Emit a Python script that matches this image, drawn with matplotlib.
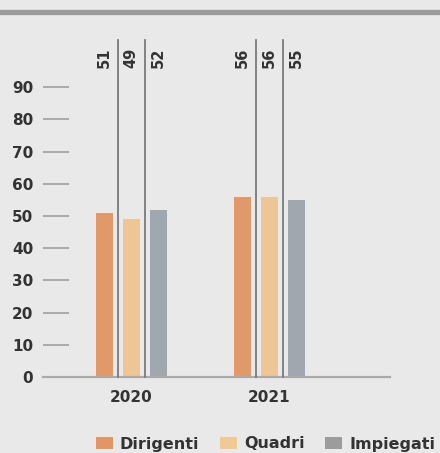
import matplotlib
matplotlib.use("Agg")
import matplotlib.pyplot as plt
from matplotlib.patches import Patch
from matplotlib.lines import Line2D
import numpy as np

years = ["2020", "2021"]
series = ["Dirigenti", "Quadri", "Impiegati"]
values = {
    "Dirigenti": [51, 56],
    "Quadri": [49, 56],
    "Impiegati": [52, 55],
}
yticks = [0, 10, 20, 30, 40, 50, 60, 70, 80, 90]

bar_colors = ["#e2996a", "#eec695", "#a0a7ae"]
legend_colors = ["#e39665", "#f0c994", "#9c9c9c"]
bg = "#e9e9e9"
text_color = "#333333"

W, H = 440, 453
fig = plt.figure(figsize=(W / 100, H / 100), dpi=100, facecolor=bg)
plt.rcParams["font.family"] = ["DejaVu Sans"]

# axes placement in pixels
x0_px, x1_px = 43, 390
y0_px, ytop_px = 377, 40
ax = fig.add_axes([x0_px / W, (H - y0_px) / H, (x1_px - x0_px) / W, (y0_px - ytop_px) / H])
ax.set_facecolor(bg)

px_per_unit = 138.5
ymax = (y0_px - ytop_px) / 3.22
ax.set_ylim(0, ymax)
ax.set_xlim((x0_px - 131) / px_per_unit, (x1_px - 131) / px_per_unit)

label_y = (y0_px - 68) / 3.22

x = np.arange(len(years))
bw = 17 / px_per_unit
off = 27 / px_per_unit
for i, s in enumerate(series):
    pos = x + (i - 1) * off
    ax.bar(pos, values[s], width=bw, color=bar_colors[i], zorder=2)
    for p, v in zip(pos, values[s]):
        ax.text(p, label_y, str(v), rotation=90, ha="center", va="bottom",
                fontsize=10.5, fontweight="bold", color=text_color, clip_on=False)

# separator lines between bars
for xi in x:
    for d in (-0.5, 0.5):
        ax.plot([xi + d * off, xi + d * off], [0, ymax], color="#7a7a7a",
                lw=1.3, zorder=3, clip_on=False)

for sp in ["top", "right", "left"]:
    ax.spines[sp].set_visible(False)
ax.spines["bottom"].set_color("#aaaaaa")
ax.spines["bottom"].set_linewidth(1.6)

ax.set_yticks(yticks)
ax.set_yticklabels([str(t) for t in yticks], fontsize=11, fontweight="bold", color=text_color)
ax.tick_params(axis="y", direction="in", length=19, width=1.1, color="#999999", pad=7)
ax.set_xticks(x)
ax.set_xticklabels(years, fontsize=11, fontweight="bold", color=text_color)
ax.tick_params(axis="x", length=0, pad=9)

handles = [Patch(facecolor=c, edgecolor="none") for c in legend_colors]
fig.legend(handles, series, loc="center left", bbox_to_anchor=(91 / W, 1 - 444 / H),
           ncol=3, frameon=False, handlelength=1.06, handleheight=0.8,
           handletextpad=0.44, columnspacing=1.3, prop={"weight": "bold", "size": 11.5},
           labelcolor=text_color, borderaxespad=0, borderpad=0.3)

fig.add_artist(Line2D([0, 1], [1 - 11.5 / H, 1 - 11.5 / H], color="#9a9a9a", lw=3.8))

fig.savefig("out.png", dpi=100, facecolor=bg)
